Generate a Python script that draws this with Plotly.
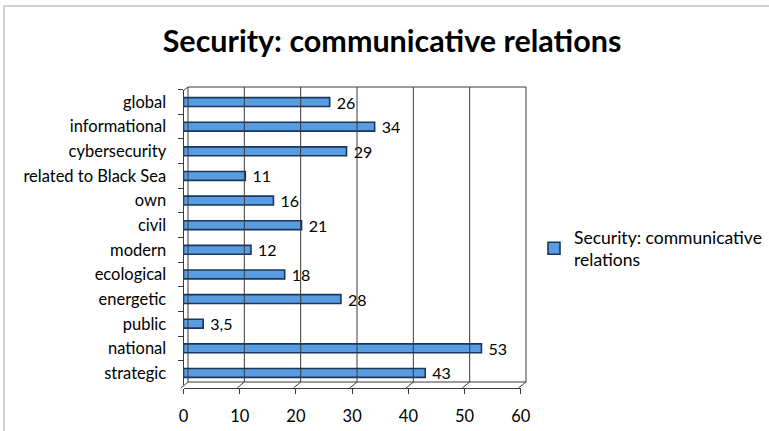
import plotly.graph_objects as go

categories = ["global", "informational", "cybersecurity", "related to Black Sea", "own",
              "civil", "modern", "ecological", "energetic", "public", "national", "strategic"]
values = [26, 34, 29, 11, 16, 21, 12, 18, 28, 3.5, 53, 43]
value_labels = ["26", "34", "29", "11", "16", "21", "12", "18", "28", "3,5", "53", "43"]
x_ticks = [0, 10, 20, 30, 40, 50, 60]
series_name = "Security: communicative relations"

FONT = "Lato, Liberation Sans, sans-serif"
W, H = 769, 431
# paper (plotting area) in pixels
PL, PR, PT, PB = 181, 526, 87, 388

def px(x):
    return (x - PL) / (PR - PL)

def py(y):
    return (PB - y) / (PB - PT)

# 3D-ish geometry (pixels)
FRONT0, FRONT60 = 181, 518.5     # front floor edge scale
BACK0, BACK60 = 188, 526          # back wall scale
BAR0, BAR60 = 183.5, 520.8        # bar depth scale
WALL_TOP, WALL_BOT = 87, 382

n = len(categories)

fig = go.Figure()
fig.add_trace(go.Bar(
    y=categories, x=values, orientation="h",
    name="Security: communicative<br>relations",
    marker=dict(color="#5A9CE0", line=dict(color="#17375E", width=1.6)),
    width=0.36,
    text=[" " + t for t in value_labels], textposition="outside", cliponaxis=False,
    constraintext="none",
    textfont=dict(family=FONT, size=16, color="#000"),
    hoverinfo="x+y",
))
# invisible helper so the front tick axis is drawn
fig.add_trace(go.Scatter(x=x_ticks, y=[categories[0]] * len(x_ticks), xaxis="x2",
                         mode="markers", marker=dict(opacity=0, size=1), showlegend=False,
                         hoverinfo="skip"))

line = dict(color="#3A3A3A", width=1)
shapes = [
    # outer chart border
    dict(type="rect", xref="paper", yref="paper", x0=px(4), x1=px(W + 5), y0=py(H + 5), y1=py(6),
         line=dict(color="#C4C4C4", width=1.5), layer="below"),
    # back wall outline
    dict(type="line", xref="paper", yref="paper", x0=px(BACK0), x1=px(BACK60),
         y0=py(WALL_TOP), y1=py(WALL_TOP), line=line),
    dict(type="line", xref="paper", yref="paper", x0=px(BACK60), x1=px(BACK60),
         y0=py(WALL_TOP), y1=py(WALL_BOT), line=line),
    dict(type="line", xref="paper", yref="paper", x0=px(BACK0), x1=px(BACK0),
         y0=py(WALL_TOP), y1=py(WALL_BOT), line=line),
    dict(type="line", xref="paper", yref="paper", x0=px(BACK0), x1=px(BACK60),
         y0=py(WALL_BOT), y1=py(WALL_BOT), line=line),
    # floor/side diagonals
    dict(type="line", xref="paper", yref="paper", x0=px(FRONT0), x1=px(BACK0),
         y0=py(PB), y1=py(WALL_BOT), line=line),
    dict(type="line", xref="paper", yref="paper", x0=px(FRONT60), x1=px(BACK60),
         y0=py(PB), y1=py(WALL_BOT), line=line),
    dict(type="line", xref="paper", yref="paper", x0=px(183), x1=px(BACK0),
         y0=py(91), y1=py(WALL_TOP), line=line),
]
# back-wall gridlines and floor diagonals
for v in x_ticks[1:-1]:
    gx = BACK0 + (BACK60 - BACK0) * v / 60
    shapes.append(dict(type="line", xref="paper", yref="paper", x0=px(gx), x1=px(gx),
                       y0=py(WALL_TOP), y1=py(WALL_BOT), line=line))
    fx = FRONT0 + (FRONT60 - FRONT0) * v / 60
    shapes.append(dict(type="line", xref="paper", yref="paper", x0=px(fx), x1=px(gx),
                       y0=py(PB), y1=py(WALL_BOT), line=line))

fig.update_layout(
    width=W, height=H,
    margin=dict(l=PL, r=W - PR, t=PT, b=H - PB, autoexpand=False),
    paper_bgcolor="white", plot_bgcolor="rgba(0,0,0,0)",
    title=dict(text="<b>Security: communicative relations</b>", xref="container", x=392 / W,
               xanchor="center", yref="container", y=1 - 41 / H, yanchor="middle",
               font=dict(family=FONT, size=30.5, color="#000")),
    font=dict(family=FONT, size=16, color="#000"),
    showlegend=True,
    legend=dict(x=px(534), y=py(219), xanchor="left", yanchor="top",
                font=dict(size=17.5, color="#000"), itemwidth=30, bgcolor="rgba(0,0,0,0)"),
    xaxis=dict(domain=[px(BAR0), px(BAR60)], range=[0, 60], showgrid=False, zeroline=False,
               showticklabels=False, showline=False, fixedrange=True),
    xaxis2=dict(domain=[px(FRONT0), px(FRONT60)], range=[0, 60], overlaying="x", anchor="free",
                position=0, side="bottom", tickvals=x_ticks, showgrid=False, zeroline=False,
                showline=True, linecolor="#3A3A3A", ticks="outside", ticklen=5,
                tickcolor="#3A3A3A", tickfont=dict(size=16.5, color="#000"),
                ticklabelstandoff=8, fixedrange=True),
    yaxis=dict(domain=[py(385.3), py(89.7)], range=[n - 0.5, -0.5], showline=True,
               linecolor="#3A3A3A", ticks="outside", ticklen=5, tickcolor="#3A3A3A",
               tickson="boundaries", tickfont=dict(size=16.5, color="#000"),
               ticklabelstandoff=13, showgrid=False, fixedrange=True),
    bargap=0.6,
    shapes=shapes,
)

fig.write_html("out.html")
